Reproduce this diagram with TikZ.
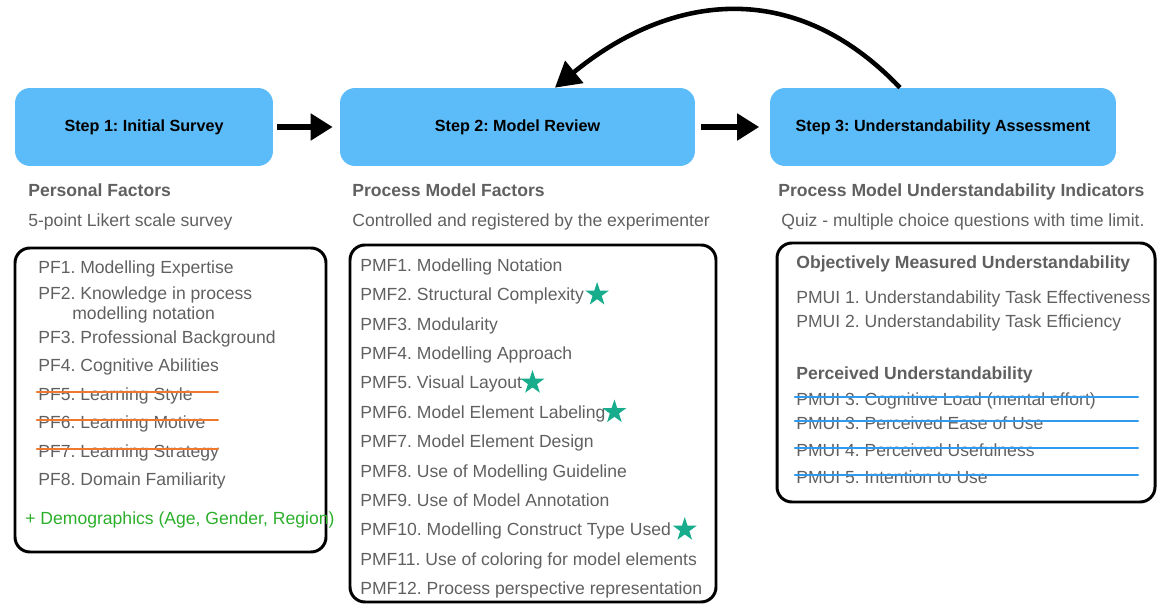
\documentclass[tikz,border=0pt]{standalone}
\usepackage{fontspec}
\setmainfont{Liberation Sans}
\usetikzlibrary{arrows.meta,positioning,shapes.geometric}
\frenchspacing

\definecolor{stepblue}{HTML}{5CBCF9}
\definecolor{textgray}{HTML}{606060}
\definecolor{stargreen}{HTML}{17AC8C}
\definecolor{demogreen}{HTML}{2BAF2B}
\definecolor{strikeorange}{HTML}{F0782E}
\definecolor{strikeblue}{HTML}{2E9BF0}

\tikzset{
  stepbox/.style={fill=stepblue, rounded corners=0.3cm, inner sep=0pt,
    minimum height=1.56cm, font=\fontsize{9.2}{11}\selectfont\bfseries},
  item/.style={anchor=west, inner sep=0pt, text height=7.2pt, text depth=0pt,
    text=textgray, font=\fontsize{10}{12}\selectfont},
  heading/.style={item, font=\fontsize{10}{12}\selectfont\bfseries},
  listbox/.style={draw, line width=1.7pt, rounded corners=0.3cm},
  flow/.style={line width=2.9pt, -{Triangle[length=0.44cm,width=0.52cm]}},
  goodstar/.style={star, star points=5, star point ratio=2.6, fill=stargreen,
    inner sep=0pt, minimum size=0.5cm},
  strike/.style={line width=1.4pt, line cap=round},
}

\begin{document}
\begin{tikzpicture}[x=0.02cm, y=-0.02cm]
  \useasboundingbox (0,0) rectangle (1157,604);

  % the three steps
  \node[stepbox, minimum width=5.16cm] (step1) at (144,127) {Step 1: Initial Survey};
  \node[stepbox, minimum width=7.1cm] (step2) at (517.5,127) {Step 2: Model Review};
  \node[stepbox, minimum width=6.92cm] (step3) at (943,127) {Step 3: Understandability Assessment};

  \draw[flow, shorten <=2.3pt, shorten >=4pt] (step1) -- (step2);
  \draw[flow, shorten <=3.4pt, shorten >=6pt] (step2) -- (step3);
  \draw[line width=2.6pt, -{Triangle[length=0.5cm,width=0.56cm]}]
    ([xshift=-0.86cm]step3.north) .. controls +(-110,-115) and +(110,-90) .. ([xshift=0.75cm]step2.north);

  % personal factors
  \node[heading] (pfhead) at (28,190) {Personal Factors};
  \node[item] (pfsub) at (28,220) {5-point Likert scale survey};
  \draw[listbox] (15,248) rectangle (326,552);
  \node[item] (pf1) at (38,267) {PF1. Modelling Expertise};
  \node[item] (pf2) at (38,293) {PF2. Knowledge in process};
  \node[item] (pf2b) at (72,313) {modelling notation};
  \foreach \i/\y/\txt in {3/337/Professional Background, 4/365/Cognitive Abilities,
      5/394/Learning Style, 6/422/Learning Motive, 7/451/Learning Strategy,
      8/479/Domain Familiarity}
    \node[item] (pf\i) at (38,\y) {PF\i. \txt};
  \node[item, text=demogreen] (demo) at (25,518) {+ Demographics (Age, Gender, Region)};
  \foreach \i in {5,6,7}
    \draw[strike, strikeorange] ([xshift=-0.6pt,yshift=1pt]pf\i.west) -- ++(181,0);

  % process model factors
  \node[heading] (pmfhead) at (352,190) {Process Model Factors};
  \node[item] (pmfsub) at (352,220) {Controlled and registered by the experimenter};
  \draw[listbox] (350,245) rectangle (716,602);
  \foreach \i/\txt in {1/Modelling Notation, 2/Structural Complexity, 3/Modularity,
      4/Modelling Approach, 5/Visual Layout, 6/Model Element Labeling,
      7/Model Element Design, 8/Use of Modelling Guideline, 9/Use of Model Annotation,
      10/Modelling Construct Type Used, 11/Use of coloring for model elements,
      12/Process perspective representation}
    \node[item] (pmf\i) at (360,{265+29.4*(\i-1)}) {PMF\i. \txt};
  \node[goodstar, right=3.2pt of pmf2] (star2) {};
  \node[goodstar, right=1.6pt of pmf5] (star5) {};
  \node[goodstar, right=0.8pt of pmf6] (star6) {};
  \node[goodstar, right=3.6pt of pmf10] (star10) {};

  % understandability indicators
  \node[heading] (uihead) at (778,190) {Process Model Understandability Indicators};
  \node[item] (uisub) at (781,220) {Quiz - multiple choice questions with time limit.};
  \draw[listbox] (777,243) rectangle (1155,502);
  \node[heading] (objhead) at (796,262) {Objectively Measured Understandability};
  \node[item] (pmui1) at (796,297) {PMUI 1. Understandability Task Effectiveness};
  \node[item] (pmui2) at (796,321) {PMUI 2. Understandability Task Efficiency};
  \node[heading] (perhead) at (796,373) {Perceived Understandability};
  \node[item] (pmui3) at (796,399) {PMUI 3. Cognitive Load (mental effort)};
  \node[item] (pmui3b) at (796,423) {PMUI 3. Perceived Ease of Use};
  \node[item] (pmui4) at (796,450) {PMUI 4. Perceived Usefulness};
  \node[item] (pmui5) at (796,477) {PMUI 5. Intention to Use};
  \foreach \n in {pmui3,pmui3b,pmui4,pmui5}
    \draw[strike, strikeblue] ([xshift=-0.6pt,yshift=1pt]\n.west) -- ++(343,0);
\end{tikzpicture}
\end{document}
